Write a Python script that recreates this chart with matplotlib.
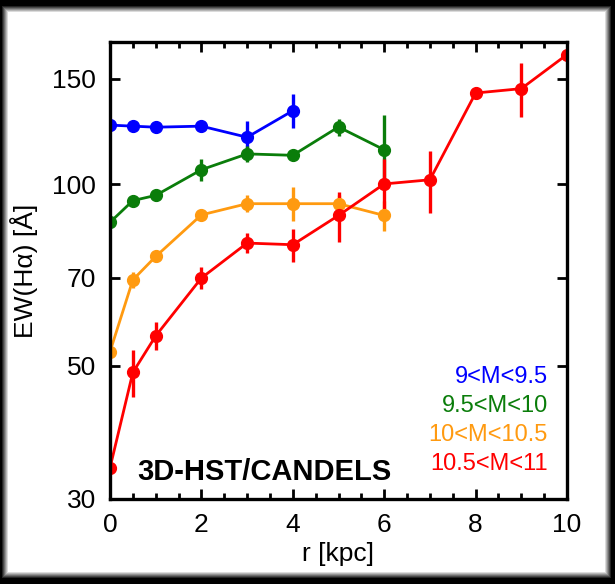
import matplotlib
matplotlib.use("Agg")
import matplotlib.pyplot as plt
from matplotlib.patches import Rectangle
from matplotlib.ticker import FixedLocator, MultipleLocator, NullFormatter, NullLocator

# ---- data ----
r_blue = [0, 0.5, 1, 2, 3, 4]
ew_blue = [125.5, 125.0, 124.5, 125.0, 119.8, 132.6]
err_blue = [1.0, 1.0, 1.0, 1.5, 7.5, 8.5]

r_green = [0, 0.5, 1, 2, 3, 4, 5, 6]
ew_green = [86.5, 94.0, 95.9, 105.8, 112.4, 111.8, 124.6, 114.2]
err_green = [1.0, 1.5, 2.0, 4.5, 3.5, 1.0, 4.0, 16.0]

r_orange = [0, 0.5, 1, 2, 3, 4, 5, 6]
ew_orange = [52.7, 69.4, 75.9, 89.0, 92.9, 92.9, 92.9, 88.8]
err_orange = [1.0, 2.0, 1.5, 1.5, 3.0, 6.0, 3.0, 5.0]

r_red = [0, 0.5, 1, 2, 3, 4, 5, 6, 7, 8, 9, 10]
ew_red = [33.8, 48.7, 56.0, 69.9, 79.9, 79.4, 88.8, 100.2, 101.8, 141.9, 144.3, 164.4]
err_red = [0.5, 4.4, 3.0, 3.0, 3.0, 5.0, 8.5, 10.0, 12.0, 3.0, 15.0, 2.0]

labels = ["9<M<9.5", "9.5<M<10", "10<M<10.5", "10.5<M<11"]
colors = ["#0000ff", "#0a7d0a", "#ff9a10", "#ff0000"]
yticks = [30, 50, 70, 100, 150]
xticks = [0, 2, 4, 6, 8, 10]

plt.rcParams['font.family'] = ['Liberation Sans', 'DejaVu Sans']

W, H = 615, 584
fig = plt.figure(figsize=(W / 100, H / 100), dpi=100)
fig.patch.set_facecolor('black')

# frame: gradient from black to white
L, T, R, B = 8, 12, 605, 572
steps = 7
for i in range(steps):
    g = (i + 1) / steps
    d = steps - 1 - i
    x0, y0 = L - d, T - d
    x1, y1 = R + d, B + d
    fig.patches.append(Rectangle((x0 / W, 1 - y1 / H), (x1 - x0) / W, (y1 - y0) / H,
                                 transform=fig.transFigure, facecolor=(g, g, g),
                                 edgecolor='none', zorder=-10))

ax = fig.add_axes([110 / W, 1 - 499 / H, 457 / W, 457 / H])
ax.set_facecolor('white')

series = [(r_blue, ew_blue, err_blue), (r_green, ew_green, err_green),
          (r_orange, ew_orange, err_orange), (r_red, ew_red, err_red)]
for (r, ew, er), c in zip(series, colors):
    ax.errorbar(r, ew, yerr=er, color=c, marker='o', ms=8.5, lw=2.0,
                elinewidth=2.4, capsize=0, clip_on=True)

ax.set_yscale('log')
ax.set_xlim(0, 10)
ax.set_ylim(30, 172.5)
ax.yaxis.set_major_locator(FixedLocator(yticks))
ax.yaxis.set_minor_locator(NullLocator())
ax.set_yticklabels([str(v) for v in yticks])
ax.yaxis.set_minor_formatter(NullFormatter())
ax.xaxis.set_major_locator(FixedLocator(xticks))
ax.xaxis.set_minor_locator(MultipleLocator(0.5))

for s in ax.spines.values():
    s.set_linewidth(2.4)
ax.tick_params(which='both', direction='in', top=True, right=True, width=2.0,
               labelsize=19, colors='black')
ax.tick_params(which='major', length=7)
ax.tick_params(which='minor', length=4)
ax.tick_params(axis='x', pad=10)
ax.tick_params(axis='y', pad=10)

ax.set_xlabel('r [kpc]', fontsize=19, labelpad=4)
ax.set_ylabel('EW(H\u03b1) [\u00c5]', fontsize=19, labelpad=10)

ax.text(0.059, 0.042, '3D-HST/CANDELS', transform=ax.transAxes, fontsize=21,
        fontweight='bold', ha='left', va='baseline', color='black')

ys = [0.254, 0.190, 0.128, 0.064]
for lab, c, y in zip(labels, colors, ys):
    ax.text(0.958, y, lab, transform=ax.transAxes, fontsize=17, color=c,
            ha='right', va='baseline')

fig.savefig('out.png', dpi=100, facecolor=fig.get_facecolor())
